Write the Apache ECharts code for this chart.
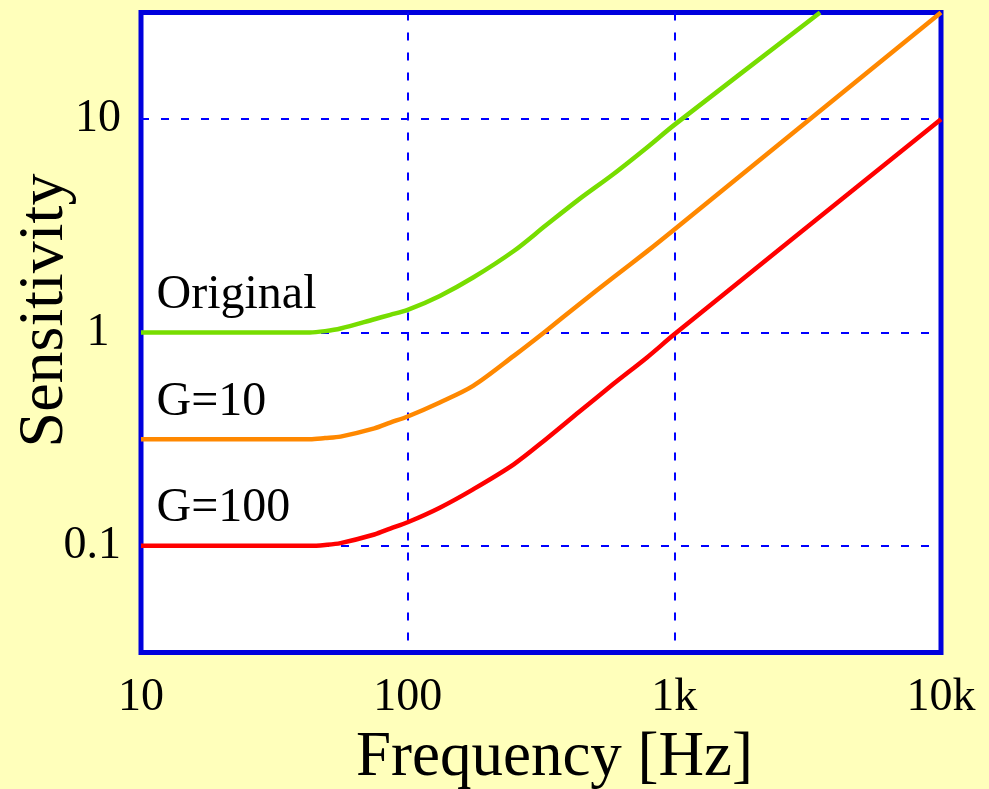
<!DOCTYPE html>
<html>
<head>
<meta charset="utf-8">
<script src="https://cdn.jsdelivr.net/npm/echarts@6/dist/echarts.min.js"></script>
<style>
  html, body { margin: 0; padding: 0; background: #FFFFBB; }
  #chart { width: 989px; height: 789px; }
</style>
</head>
<body>
<div id="chart"></div>
<script>
// Frequency points (Hz) and sensitivity readings for each curve
const origFreq = [10, 43, 49, 56, 75, 86, 100, 132, 176, 250, 330, 440, 590, 790, 1000, 3520];
const origSens = [1, 1, 1.015, 1.044, 1.154, 1.21, 1.276, 1.484, 1.81, 2.41, 3.18, 4.22, 5.52, 7.37, 9.4, 31.6];

const gainFreq = [10, 43, 49, 56, 75, 86, 100, 132, 176, 250, 330, 440, 590, 790, 1000, 10000];
const g10Sens  = [0.316, 0.316, 0.32, 0.325, 0.355, 0.378, 0.404, 0.47, 0.562, 0.777, 1.017, 1.357, 1.81, 2.40, 3.04, 31.6];
const g100Sens = [0.1, 0.1, 0.101, 0.103, 0.113, 0.1205, 0.129, 0.151, 0.184, 0.241, 0.316, 0.425, 0.573, 0.764, 0.98, 10];

const seriesNames = ['Original', 'G=10', 'G=100'];

// Axis ticks and their labels
const xTicks = [10, 100, 1000, 10000];
const xTickText = ['10', '100', '1k', '10k'];
const yTicks = [0.1, 1, 10];
const yTickText = ['0.1', '1 ', '10'];

const SERIF = 'Liberation Serif, Times New Roman, serif';

function pairs(xs, ys) { return xs.map((x, i) => [x, ys[i]]); }

function tickFormatter(ticks, texts) {
  return function (v) {
    for (let i = 0; i < ticks.length; i++) {
      if (Math.abs(Math.log10(v) - Math.log10(ticks[i])) < 1e-6) return texts[i];
    }
    return '';
  };
}

function curve(name, xs, ys, color) {
  return {
    type: 'line',
    name: name,
    data: pairs(xs, ys),
    showSymbol: false,
    smooth: 0.3,
    clip: true,
    lineStyle: { color: color, width: 4.5, join: 'round' },
    itemStyle: { color: color },
    markPoint: {
      symbol: 'circle',
      symbolSize: 1,
      itemStyle: { color: 'rgba(0,0,0,0)' },
      data: [{ coord: [xs[0], ys[0]] }],
      label: {
        show: true,
        formatter: name,
        position: 'right',
        distance: 0,
        offset: [15, -37],
        fontFamily: SERIF,
        fontSize: 48,
        color: '#000'
      }
    }
  };
}

const chart = echarts.init(document.getElementById('chart'));
chart.setOption({
  animation: false,
  backgroundColor: '#FFFFBB',
  grid: {
    left: 141, right: 48, top: 12.5, bottom: 136.5,
    containLabel: false,
    outerBoundsMode: 'none',
    show: true,
    backgroundColor: '#FFFFFF',
    borderColor: '#0000DD',
    borderWidth: 5
  },
  xAxis: {
    type: 'log',
    logBase: 10,
    min: 10,
    max: 10000,
    name: 'Frequency [Hz]',
    nameLocation: 'middle',
    nameGap: 74,
    nameMoveOverlap: false,
    nameTextStyle: { fontFamily: SERIF, fontSize: 63, color: '#000', padding: [0, 0, 0, 27] },
    axisLine: { show: false },
    axisTick: { show: false },
    minorTick: { show: false },
    axisLabel: {
      margin: 22,
      fontFamily: SERIF,
      fontSize: 46,
      color: '#000',
      formatter: tickFormatter(xTicks, xTickText)
    },
    splitLine: {
      show: true,
      showMinLine: false,
      showMaxLine: false,
      lineStyle: { color: '#0000FF', width: 2, type: [8, 12] }
    }
  },
  yAxis: {
    type: 'log',
    logBase: 10,
    min: Math.pow(10, -1.5),
    max: Math.pow(10, 1.5),
    name: 'Sensitivity',
    nameLocation: 'middle',
    nameRotate: 90,
    nameGap: 64,
    nameMoveOverlap: false,
    nameTextStyle: { fontFamily: SERIF, fontSize: 64, color: '#000', padding: [0, 0, 0, 44] },
    axisLine: { show: false },
    axisTick: { show: false },
    minorTick: { show: false },
    axisLabel: {
      margin: 20,
      fontFamily: SERIF,
      fontSize: 46,
      color: '#000',
      showMinLabel: false,
      showMaxLabel: false,
      formatter: tickFormatter(yTicks, yTickText)
    },
    splitLine: {
      show: true,
      showMinLine: false,
      showMaxLine: false,
      lineStyle: { color: '#0000FF', width: 2, type: [8, 12] }
    }
  },
  series: [
    curve(seriesNames[0], origFreq, origSens, '#77DD00'),
    curve(seriesNames[1], gainFreq, g10Sens, '#FF8800'),
    curve(seriesNames[2], gainFreq, g100Sens, '#FF0000')
  ]
});
</script>
</body>
</html>
